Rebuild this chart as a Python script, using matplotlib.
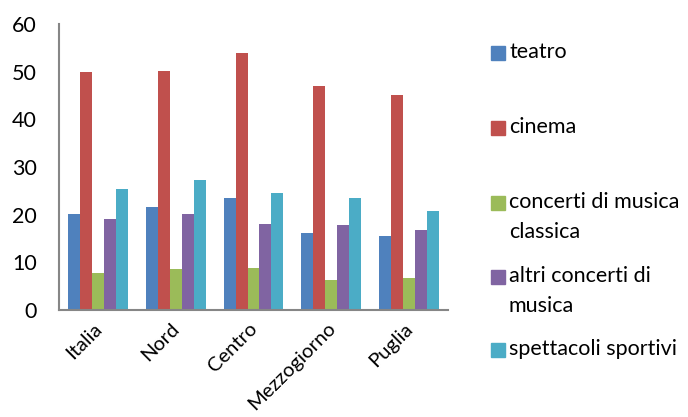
import numpy as np
import matplotlib.pyplot as plt
import matplotlib.transforms as mtransforms
from matplotlib.patches import Rectangle

plt.rcParams['font.family'] = ['Lato', 'DejaVu Sans']

regions = ['Italia', 'Nord', 'Centro', 'Mezzogiorno', 'Puglia']
series = ['teatro', 'cinema', 'concerti di musica\nclassica',
          'altri concerti di\nmusica', 'spettacoli sportivi']
teatro = [20.1, 21.7, 23.4, 16.1, 15.5]
cinema = [49.9, 50.1, 53.9, 47.0, 45.2]
concerti_classica = [7.8, 8.6, 8.8, 6.2, 6.8]
altri_concerti = [19.0, 20.1, 18.0, 17.8, 16.8]
sportivi = [25.4, 27.2, 24.5, 23.6, 20.8]
values = [teatro, cinema, concerti_classica, altri_concerti, sportivi]
colors = ['#4F81BD', '#C0504D', '#9BBB59', '#8064A2', '#4BACC6']

fs = 15.5

fig = plt.figure(figsize=(6.88, 4.17), dpi=100)
ax = fig.add_axes([59 / 688, 1 - 310 / 417, 389 / 688, 286 / 417])

x = np.arange(len(regions))
width = 1 / 6.5
for i, (vals, c) in enumerate(zip(values, colors)):
    ax.bar(x + (i - 2) * width, vals, width, color=c, linewidth=0)

ax.set_xlim(-0.5, len(regions) - 0.5)
ax.set_ylim(0, 60)
ax.set_yticks(range(0, 61, 10))
ax.set_xticks(x)
ax.set_xticklabels(regions, rotation=45, ha='right', rotation_mode='anchor',
                   fontsize=14.5)
ax.tick_params(axis='y', length=0, labelsize=fs, colors='#000000', pad=16)
ax.tick_params(axis='x', length=0, colors='#000000', pad=7)

# nudge the slanted category labels a little to the left
shift = mtransforms.ScaledTranslation(-5 / 100, 0, fig.dpi_scale_trans)
for lbl in ax.get_xticklabels():
    lbl.set_transform(lbl.get_transform() + shift)

for s in ['top', 'right']:
    ax.spines[s].set_visible(False)
for s in ['left', 'bottom']:
    ax.spines[s].set_color('#868686')
    ax.spines[s].set_linewidth(1.5)

# legend drawn by hand so the swatch sits on the first text line
legend_y = [53, 128, 203, 277, 350]
for name, c, yy in zip(series, colors, legend_y):
    yf = 1 - yy / 417
    fig.patches.append(Rectangle((491 / 688, yf - 7 / 417), 14 / 688, 14 / 417,
                                 transform=fig.transFigure, color=c))
    fig.text(509 / 688, yf + 11 / 417, name, fontsize=fs, va='top', ha='left',
             linespacing=1.65)

fig.savefig('out.png', dpi=100)
